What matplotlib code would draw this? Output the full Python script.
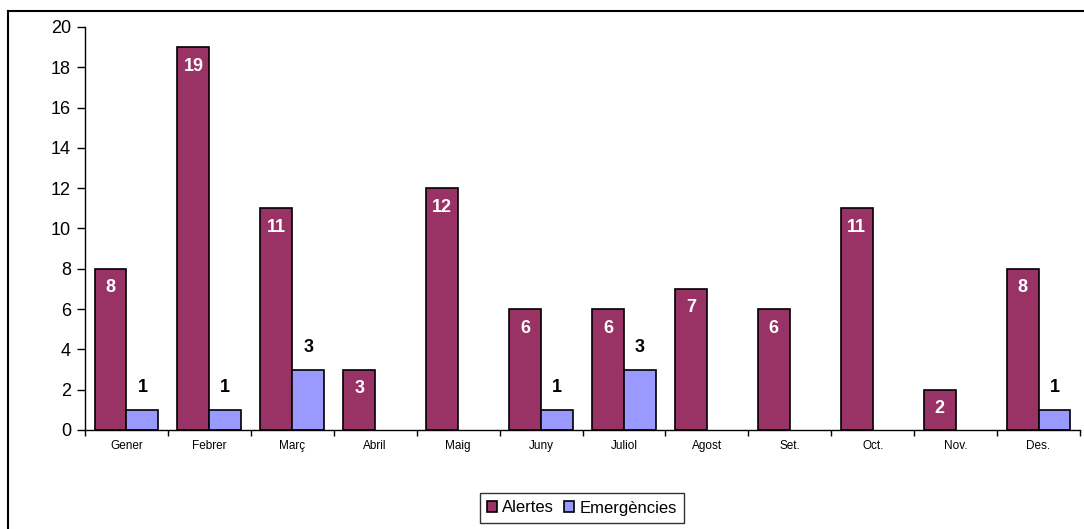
import numpy as np
import matplotlib
matplotlib.use("Agg")
from matplotlib import pyplot as plt
from matplotlib.lines import Line2D

plt.rcParams['font.family'] = ['Liberation Sans', 'DejaVu Sans']

months = ["Gener", "Febrer", "Març", "Abril", "Maig", "Juny",
          "Juliol", "Agost", "Set.", "Oct.", "Nov.", "Des."]
alertes = [8, 19, 11, 3, 12, 6, 6, 7, 6, 11, 2, 8]
emergencies = [1, 1, 3, 0, 0, 1, 3, 0, 0, 0, 0, 1]

ALERT_COLOR = "#993366"
EMERG_COLOR = "#9999FF"


def main():
    fig = plt.figure(figsize=(10.84, 5.29), dpi=100)
    ax = fig.add_axes([85 / 1084, 99 / 529, 995 / 1084, 403 / 529])

    x = np.arange(len(months))
    width = 0.385
    shift = width / 2

    b1 = ax.bar(x - shift, alertes, width, color=ALERT_COLOR,
                edgecolor="black", linewidth=1.2, label="Alertes")
    # zero values are not drawn, as in the original
    em_x = [xi + shift for xi, v in zip(x, emergencies) if v > 0]
    em_v = [v for v in emergencies if v > 0]
    ax.bar(em_x, em_v, width, color=EMERG_COLOR,
           edgecolor="black", linewidth=1.2, label="Emergències")

    for rect, v in zip(b1, alertes):
        ax.annotate(str(v), (rect.get_x() + rect.get_width() / 2, v),
                    xytext=(0, -19), textcoords="offset pixels",
                    ha="center", va="center", color="white",
                    fontsize=13, fontweight="bold")
    for xi, v in zip(em_x, em_v):
        ax.annotate(str(v), (xi, v), xytext=(0, 22), textcoords="offset pixels",
                    ha="center", va="center", color="black",
                    fontsize=13, fontweight="bold")

    ax.set_xlim(-0.5, len(months) - 0.5)
    ax.set_ylim(0, 20)
    ax.set_yticks(range(0, 21, 2))
    ax.tick_params(axis="y", labelsize=13, length=6, width=1, direction="out", pad=4)
    ax.set_xticks(x)
    ax.set_xticklabels(months, fontsize=8.5)
    ax.tick_params(axis="x", which="major", length=0, pad=7)
    ax.set_xticks(np.arange(-0.5, len(months), 1), minor=True)
    ax.tick_params(axis="x", which="minor", length=4, width=1, direction="out")

    for side in ("top", "right"):
        ax.spines[side].set_visible(False)
    for side in ("left", "bottom"):
        ax.spines[side].set_linewidth(1)

    leg = fig.legend(loc="center", bbox_to_anchor=(582 / 1084, 1 - 508 / 529),
                     ncol=2, fontsize=12, frameon=True, fancybox=False,
                     handlelength=0.6, handleheight=0.6, handletextpad=0.3,
                     columnspacing=0.6, borderpad=0.45)
    leg.get_frame().set_edgecolor("black")
    leg.get_frame().set_linewidth(1)

    # outer chart border (left and top visible)
    fig.add_artist(Line2D([8 / 1084, 8 / 1084], [0, 1 - 11 / 529],
                          transform=fig.transFigure, color="black", linewidth=1.5))
    fig.add_artist(Line2D([8 / 1084, 1], [1 - 11 / 529, 1 - 11 / 529],
                          transform=fig.transFigure, color="black", linewidth=1.5))

    fig.savefig("out.png", dpi=100)
    return 0


if __name__ == "__main__":
    main()
